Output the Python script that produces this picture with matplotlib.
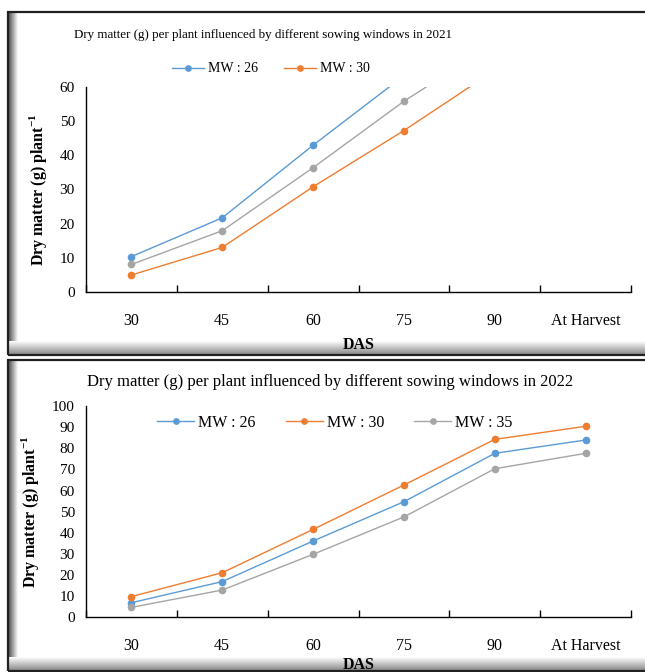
import numpy as np
import matplotlib
matplotlib.use('Agg')
import matplotlib.pyplot as plt
from matplotlib.patches import Rectangle

plt.rcParams['font.family'] = ['Liberation Serif', 'DejaVu Serif']
plt.rcParams['mathtext.fontset'] = 'custom'
plt.rcParams['mathtext.rm'] = 'Liberation Serif'
plt.rcParams['mathtext.bf'] = 'Liberation Serif:bold'

# data
stages = ['30', '45', '60', '75', '90', 'At Harvest']
mw26_2021 = [10.3, 21.7, 43.0, 63.4, 80.0, 86.0]
mw30_2021 = [4.9, 13.0, 30.8, 47.3, 65.0, 72.0]
mw35_2021 = [8.0, 17.9, 36.4, 55.9, 73.0, 79.0]
mw26_2022 = [6.9, 16.9, 36.1, 54.7, 77.6, 83.9]
mw30_2022 = [9.8, 21.1, 41.6, 62.6, 84.2, 90.4]
mw35_2022 = [4.7, 12.9, 29.8, 47.5, 70.3, 77.6]

COLORS = {'26': '#5B9BD5', '30': '#ED7D31', '35': '#A5A5A5'}
W, H = 645, 672

fig = plt.figure(figsize=(W / 100, H / 100), dpi=100)


def fx(px):
    return px / W


def fy(py):
    return 1 - py / H


def gradient(x0, y0, x1, y1, vertical, c0, c1):
    # shaded edge of the picture frame, pixel coords
    ax = fig.add_axes([fx(x0), fy(y1), fx(x1 - x0), (y1 - y0) / H], zorder=-5)
    g = np.linspace(c0, c1, 64)
    img = g[:, None] if vertical else g[None, :]
    ax.imshow(img, cmap='gray', vmin=0, vmax=1, aspect='auto', interpolation='bilinear')
    ax.axis('off')


def frame(top, bottom):
    fig.patches.append(Rectangle((fx(8), fy(bottom)), fx(660 - 8), (bottom - top) / H,
                                 transform=fig.transFigure, fill=False,
                                 edgecolor='#202020', lw=1.6, zorder=5))
    gradient(9, top + 1, 18, bottom - 1, False, 0.35, 1.0)
    gradient(9, bottom - 14, 660, bottom - 1, True, 1.0, 0.55)


frame(12, 355)
frame(360, 671)


def panel(rect, series, ymax, title, title_xy, title_fs, leg_xy, leg_fs, leg_labels,
          xlab_pad):
    ax = fig.add_axes(rect)
    x = np.arange(len(stages))
    for (key, vals), lab in zip(series, leg_labels):
        ax.plot(x, vals, color=COLORS[key], lw=1.0, marker='o', ms=4.5,
                label=lab if lab else '_nolegend_')
    ax.set_xlim(-0.5, len(stages) - 0.5)
    ax.set_ylim(0, ymax)
    ax.set_yticks(np.arange(0, ymax + 1, 10))
    ax.set_xticks(x)
    ax.set_xticklabels(stages)
    ax.set_xticks(np.arange(-0.5, len(stages), 1), minor=True)
    ax.tick_params(axis='x', which='major', length=0, pad=15, labelsize=11.5)
    ax.tick_params(axis='x', which='minor', direction='in', length=5, width=1, color='black')
    ax.tick_params(axis='y', length=0, pad=8, labelsize=11)
    for s in ('top', 'right'):
        ax.spines[s].set_visible(False)
    for s in ('left', 'bottom'):
        ax.spines[s].set_linewidth(1)
        ax.spines[s].set_color('black')
    ax.set_ylabel(r'Dry matter (g) plant$^{\mathbf{-1}}$', fontsize=11.5,
                  fontweight='bold', labelpad=8)
    ax.set_xlabel('DAS', fontsize=11.5, fontweight='bold', labelpad=xlab_pad)
    fig.text(fx(title_xy[0]), fy(title_xy[1]), title, ha='center', va='center',
             fontsize=title_fs)
    ax.legend(loc='center', bbox_to_anchor=(fx(leg_xy[0]), fy(leg_xy[1])),
              bbox_transform=fig.transFigure, ncol=3, frameon=False, fontsize=leg_fs,
              handlelength=2.3, columnspacing=1.9, handletextpad=0.25, markerscale=0.85)
    return ax


panel([fx(86), fy(291.7), fx(631 - 86), (291.7 - 87.3) / H],
      [('26', mw26_2021), ('30', mw30_2021), ('35', mw35_2021)], 60,
      'Dry matter (g) per plant influenced by different sowing windows in 2021',
      (263, 35), 9.4, (271, 69), 10, ['MW : 26', 'MW : 30', None], 6)

panel([fx(86), fy(617.3), fx(631 - 86), (617.3 - 406) / H],
      [('26', mw26_2022), ('30', mw30_2022), ('35', mw35_2022)], 100,
      'Dry matter (g) per plant influenced by different sowing windows in 2022',
      (330, 382), 12, (335, 423), 11.5, ['MW : 26', 'MW : 30', 'MW : 35'], 2)

fig.savefig('out.png', dpi=100)
